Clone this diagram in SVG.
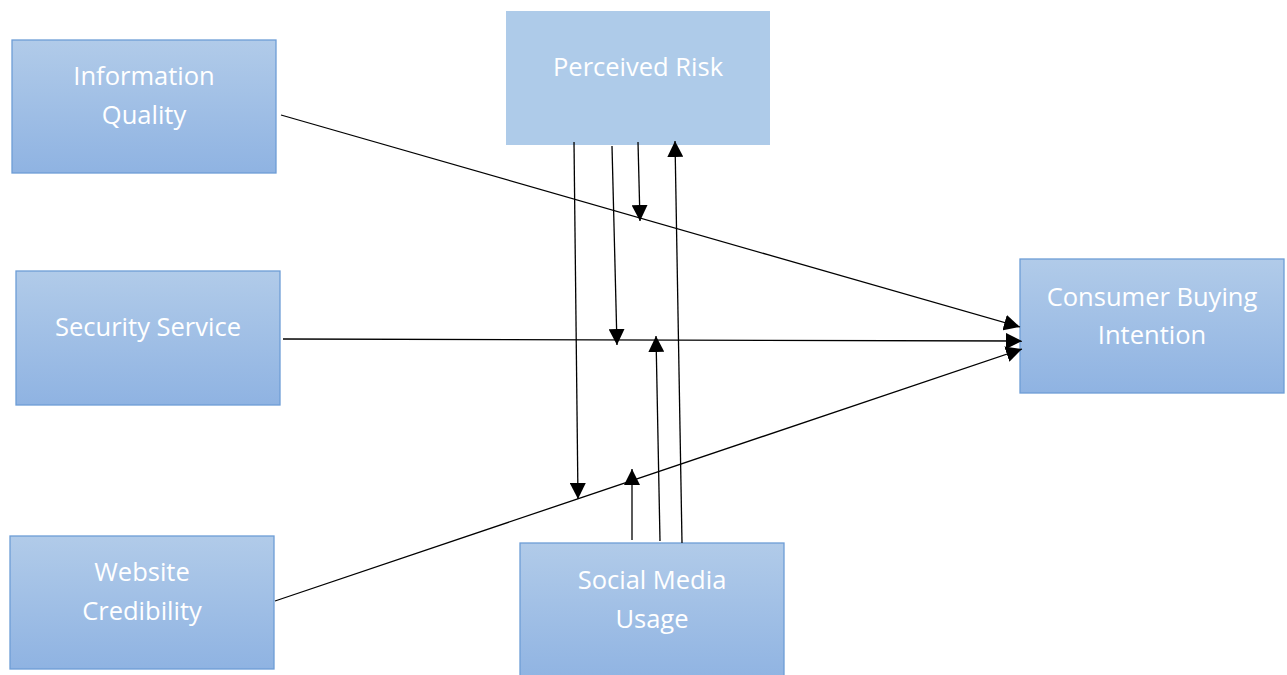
<svg xmlns="http://www.w3.org/2000/svg" width="1287" height="675" viewBox="0 0 1287 675">
<defs>
<linearGradient id="g" x1="0" y1="0" x2="0" y2="1">
<stop offset="0" stop-color="#b1cbe9"/>
<stop offset="1" stop-color="#8fb3e2"/>
</linearGradient>
<marker id="ah" viewBox="0 0 10 10" refX="10" refY="5" markerWidth="16" markerHeight="16" markerUnits="userSpaceOnUse" orient="auto">
<path d="M0,0 L10,5 L0,10 Z" fill="#000"/>
</marker>
<style>
.box{fill:url(#g);stroke:#6d9dd6;stroke-width:1.3}
.flat{fill:#aecbe9}
.t{font-family:"Open Sans","Liberation Sans",sans-serif;font-size:25.5px;fill:#fff;text-anchor:middle}
.c line{stroke:#000;stroke-width:1.3;marker-end:url(#ah)}
</style>
</defs>
<rect width="1287" height="675" fill="#fff"/>
<g id="iq"><rect class="box" x="12" y="40" width="264" height="133"/><text class="t" x="144" y="85">Information</text><text class="t" x="144" y="124">Quality</text></g>
<g id="ss"><rect class="box" x="16" y="271" width="264" height="134"/><text class="t" x="148" y="336">Security Service</text></g>
<g id="wc"><rect class="box" x="10" y="536" width="264" height="133"/><text class="t" x="142" y="581">Website</text><text class="t" x="142" y="620">Credibility</text></g>
<g id="pr"><rect class="flat" x="506" y="11" width="264" height="134"/><text class="t" x="638" y="76">Perceived Risk</text></g>
<g id="cbi"><rect class="box" x="1020" y="259" width="264" height="134"/><text class="t" x="1152" y="306">Consumer Buying</text><text class="t" x="1152" y="344">Intention</text></g>
<g id="smu"><rect class="box" x="520" y="543" width="264" height="140"/><text class="t" x="652" y="589">Social Media</text><text class="t" x="652" y="628">Usage</text></g>
<g class="c" id="connectors">
<line x1="281" y1="115" x2="1020" y2="327"/>
<line x1="283" y1="339" x2="1022" y2="341"/>
<line x1="275" y1="601" x2="1022" y2="349"/>
<line x1="574" y1="142" x2="578" y2="499"/>
<line x1="612" y1="146" x2="617" y2="345"/>
<line x1="638" y1="142" x2="640" y2="221"/>
<line x1="682" y1="543" x2="675" y2="141"/>
<line x1="660" y1="541" x2="656" y2="336"/>
<line x1="632" y1="540" x2="632" y2="469"/>
</g>
</svg>
